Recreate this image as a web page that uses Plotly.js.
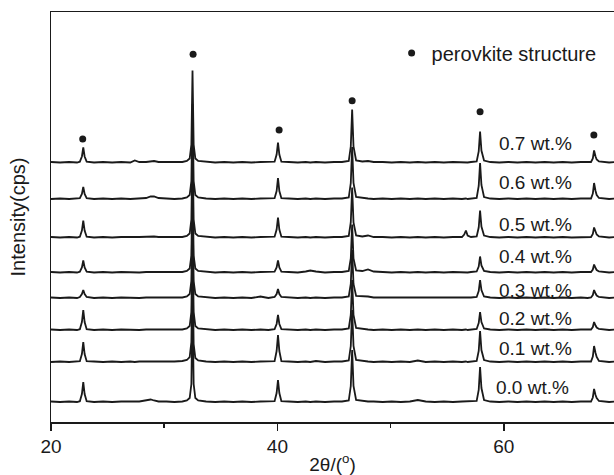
<!DOCTYPE html>
<html>
<head>
<meta charset="utf-8">
<script src="https://cdn.plot.ly/plotly-3.0.1.min.js"></script>
<style>
  html, body { margin: 0; padding: 0; background: #fff; }
  #chart { width: 614px; height: 475px; }
</style>
</head>
<body>
<div id="chart"></div>
<script>
// ---------------- DATA ----------------
// 2θ positions (degrees), shared by every pattern
const TWO_THETA = [
  20.0, 20.8, 21.6, 22.3,
  22.55, 22.73, 22.85, 22.97, 23.15,
  23.8, 24.6, 25.4, 26.2, 27.0, 27.4, 27.8, 28.4, 28.8, 29.1, 29.5, 30.2, 30.9, 31.6,
  32.0, 32.25, 32.4, 32.5, 32.6, 32.75, 33.0,
  33.7, 34.5, 35.3, 36.1, 36.9, 37.7, 38.5, 39.2,
  39.75, 39.93, 40.05, 40.17, 40.35,
  41.0, 41.8, 42.5, 42.9, 43.4, 44.2, 45.0, 45.7,
  46.3, 46.48, 46.6, 46.72, 46.95,
  47.5, 48.0, 48.5, 49.3, 50.1, 50.9, 51.7, 52.4, 53.1, 53.9, 54.7, 55.5, 56.3, 56.5, 56.65, 56.8, 57.1,
  57.6, 57.78, 57.9, 58.02, 58.25,
  58.8, 59.6, 60.4, 61.2, 62.0, 62.8, 63.6, 64.4, 65.2, 66.0, 66.8, 67.4,
  67.7, 67.86, 67.97, 68.1, 68.2, 68.4,
  68.8, 69.3, 70.0
];

// sample names (bottom to top)
const SAMPLES = ['0.0 wt.%', '0.1 wt.%', '0.2 wt.%', '0.3 wt.%', '0.4 wt.%', '0.5 wt.%', '0.6 wt.%', '0.7 wt.%'];

// vertical stacking offset of each pattern (cps, arbitrary)
const OFFSETS = [20, 60, 92, 124, 149.5, 184.5, 223, 259.5];

// intensities of each pattern above its own baseline
const I_00 = [
  0.5, 0, 0.5, 0,
  0.8, 8, 20, 8, 0.8,
  0, 0.5, 0, 0.5, 0, 0.5, 0.5, 1.5, 2.5, 1.5, 0.5, 0.5, 0, 0.5,
  1.5, 4, 18, 100, 18, 4, 1.5,
  0.5, 0, 0.5, 0, 0.5, 0, 0.5, 0.5,
  0.8, 9, 22, 9, 0.8,
  0.5, 0, 0.5, 0, 0.5, 0, 0.5, 0.5,
  1.5, 16, 52, 16, 2,
  1, 0.5, 0.5, 0, 0.5, 0, 0.5, 2, 0.5, 0, 0.5, 0, 0.5, 0.5, 0.5, 0.5, 0.5,
  1, 12, 35, 14, 2,
  0.5, 0, 0.5, 0, 0.5, 0, 0.5, 0, 0.5, 0, 0.5, 0.5,
  0.5, 4.5, 13, 7, 4, 1,
  0.5, 0, 0.5
];
const I_01 = [
  0, 0.5, 0, 0.5,
  0.8, 8, 20, 8, 0.8,
  0.5, 0, 0.5, 0, 0.5, 0, 0.5, 0.5, 0, 0.5, 0, 0.5, 0.5, 1,
  2, 5, 20, 100, 18, 4, 1.5,
  0.5, 0, 0.5, 0, 0.5, 0, 0.5, 0.5,
  0.8, 11, 27, 11, 0.8,
  0.5, 0, 0.5, 0, 1, 0, 0.5, 0.5,
  1.5, 16, 52, 16, 2,
  1, 0.5, 0, 0.5, 0, 0.5, 0, 1.5, 0, 0.5, 0, 0.5, 0, 0.5, 0.5, 0, 0.5,
  1, 11, 31, 12, 2,
  0.5, 0, 0.5, 0, 0.5, 0, 0.5, 0, 0.5, 0, 0.5, 0,
  0.5, 5.5, 16, 9, 5, 1,
  0.5, 0, 0.5
];
const I_02 = [
  0.5, 0, 0.5, 0,
  0.8, 8, 20, 8, 0.8,
  0, 0.5, 0, 0.5, 0, 0.5, 0, 0.5, 0.5, 0.5, 0, 0.5, 0, 0.5,
  1.5, 4, 18, 100, 18, 4, 1.5,
  0.5, 0, 0.5, 0, 0.5, 0, 0.5, 0,
  0.8, 6, 15, 6, 0.8,
  0.5, 0, 0.5, 0, 0.5, 0, 0.5, 0.5,
  1.5, 15, 50, 15, 2,
  1, 0.5, 0, 0.5, 0, 0.5, 0, 0.5, 0, 0.5, 0, 0.5, 0, 0.5, 0.5, 0, 0.5,
  1, 7, 18, 8, 1.5,
  0.5, 0, 0.5, 0, 0.5, 0, 0.5, 0, 0.5, 0, 0.5, 0,
  0.5, 3, 8, 4.5, 2.5, 1,
  0.5, 0, 0.5
];
const I_03 = [
  0.5, 0, 0.5, 0,
  1, 4, 8, 4, 1,
  0, 0.5, 0, 0.5, 0, 0.5, 0, 0.5, 0.5, 0.5, 0, 0.5, 0, 0.5,
  1.5, 4, 17, 95, 17, 4, 1.5,
  0.5, 0, 0.5, 0, 0.5, 0, 1.5, 0,
  1, 4, 9, 4, 1,
  0.5, 0, 0.5, 0, 0.5, 0, 0.5, 0.5,
  1.5, 14, 48, 14, 2,
  2, 1.5, 0.5, 0.5, 0, 0.5, 0, 0.5, 0, 0.5, 0, 0.5, 0, 0.5, 0.5, 0, 0.5,
  1, 7, 18, 8, 1.5,
  0.5, 0, 0.5, 0, 0.5, 0, 0.5, 0, 0.5, 0, 0.5, 0,
  0.5, 3, 8, 4.5, 2.5, 1,
  0.5, 0, 0.5
];
const I_04 = [
  0.5, 0, 0.5, 0,
  0.8, 5, 12, 5, 0.8,
  0, 0.5, 0, 0.5, 0, 0.5, 0, 0.5, 0.5, 0.5, 0, 0.5, 0, 0.5,
  1.5, 4, 17, 95, 17, 4, 1.5,
  0.5, 0, 0.5, 0, 0.5, 0, 0.5, 0.5,
  0.8, 5, 12, 5, 0.8,
  0.5, 0, 1, 2, 1, 0, 0.5, 0.5,
  1.5, 14, 48, 14, 2,
  1.5, 3, 1, 0.5, 0, 0.5, 0, 0.5, 0, 0.5, 0, 0.5, 0, 0.5, 0.5, 0, 0.5,
  1, 6, 16, 7, 1.5,
  0.5, 0, 0.5, 0, 0.5, 0, 0.5, 0, 0.5, 0, 0.5, 0,
  0.5, 3, 8, 4.5, 2.5, 1,
  0.5, 0, 0.5
];
const I_05 = [
  0.5, 0, 0.5, 0,
  0.8, 7, 17, 7, 0.8,
  0, 0.5, 0, 0.5, 0, 0.5, 0.5, 1, 1.5, 1, 0.5, 0.5, 0, 0.5,
  1.5, 4, 18, 95, 18, 4, 1.5,
  0.5, 0, 0.5, 0, 0.5, 0, 0.5, 0.5,
  0.8, 8, 20, 8, 0.8,
  0.5, 0, 0.5, 0, 0.5, 0, 0.5, 0.5,
  1.5, 15, 50, 15, 2,
  1, 2, 0.5, 0.5, 0, 0.5, 0, 0.5, 0, 0.5, 0, 0.5, 0.5, 3, 7, 2, 0.5,
  1, 10, 27, 11, 2,
  0.5, 0, 0.5, 0, 0.5, 0, 0.5, 0, 0.5, 0, 0.5, 0.5,
  0.5, 3.5, 10, 6, 3, 1,
  0.5, 0, 0.5
];
const I_06 = [
  0, 0.5, 0, 0.5,
  0.8, 5, 12, 5, 0.8,
  0, 0.5, 0, 0.5, 0, 0.5, 0.5, 1, 2.5, 2.5, 1, 0.5, 0, 0.5,
  1.5, 4, 18, 95, 18, 4, 1.5,
  0.5, 0, 0.5, 0, 0.5, 0, 0.5, 0.5,
  0.8, 8, 21, 8, 0.8,
  0.5, 0, 0.5, 0, 0.5, 0, 0.5, 0.5,
  1.5, 16, 52, 16, 2,
  1, 0.5, 0, 0.5, 0, 0.5, 0, 0.5, 0, 0.5, 0, 0.5, 0, 0.5, 0.5, 0, 0.5,
  1, 13, 36, 14, 2,
  0.5, 0, 0.5, 0, 0.5, 0, 0.5, 0, 0.5, 0, 0.5, 0,
  0.5, 5.5, 16, 8, 4, 1,
  0.5, 0, 0.5
];
const I_07 = [
  0.5, 0, 0.5, 0,
  0.8, 6, 15, 6, 0.8,
  0, 0.5, 0, 0.5, 0, 2, 0.5, 0.5, 1.5, 1.5, 0.5, 0.5, 0, 0.5,
  1.5, 4, 18, 92, 18, 4, 1.5,
  0.5, 0, 0.5, 0, 0.5, 0, 0.5, 0.5,
  0.8, 8, 20, 8, 0.8,
  0.5, 0, 0.5, 0, 0.5, 0, 0.5, 0.5,
  1.5, 16, 53, 16, 2,
  1, 1.5, 0.5, 0.5, 0, 0.5, 0, 0.5, 0, 0.5, 0, 0.5, 0, 0.5, 0.5, 0, 0.5,
  1, 11, 31, 12, 2,
  0.5, 0, 0.5, 0, 0.5, 0, 0.5, 0, 0.5, 0, 0.5, 0,
  0.5, 4, 12, 6, 3, 1,
  0.5, 0, 0.5
];

// perovskite reflection markers (•)
const MARK_2THETA = [22.8, 32.55, 40.15, 46.6, 57.9, 67.95];
const MARK_Y = [283, 367.7, 292, 321.3, 310.3, 287];
const MARK_NAME = 'perovkite structure';

// axis tick values
const X_TICKS = [20, 40, 60];

// ---------------- BUILD ----------------
const PATTERNS = [I_00, I_01, I_02, I_03, I_04, I_05, I_06, I_07];
const FONT = 'Liberation Sans, Arial, Helvetica, sans-serif';
const INK = '#1a1a1a';

const traces = PATTERNS.map((arr, k) => ({
  type: 'scatter',
  mode: 'lines',
  name: SAMPLES[k],
  x: TWO_THETA,
  y: arr.map(v => v + OFFSETS[k]),
  line: { color: INK, width: 1.8 },
  showlegend: false,
  hoverinfo: 'skip'
}));

traces.push({
  type: 'scatter',
  mode: 'markers',
  name: MARK_NAME,
  x: MARK_2THETA,
  y: MARK_Y,
  marker: { color: INK, size: 7, symbol: 'circle' },
  showlegend: true
});

// label placement (layout only)
const LABEL_X = [62.55, 62.8, 62.8, 62.8, 62.8, 62.8, 62.8, 62.8];
const LABEL_Y = [34.7, 73.7, 103.7, 131.3, 165.3, 198, 239.3, 278.7];

const annotations = SAMPLES.map((s, k) => ({
  x: LABEL_X[k], y: LABEL_Y[k], xref: 'x', yref: 'y',
  text: s, showarrow: false, xanchor: 'center', yanchor: 'middle',
  font: { family: FONT, size: 19, color: INK }
}));

const layout = {
  width: 614,
  height: 475,
  margin: { l: 51, r: 0, t: 12, b: 53, pad: 0 },
  paper_bgcolor: '#ffffff',
  plot_bgcolor: '#ffffff',
  font: { family: FONT, color: INK },
  showlegend: true,
  legend: {
    x: 0.605, y: 0.9, xanchor: 'left', yanchor: 'middle',
    bgcolor: 'rgba(0,0,0,0)', borderwidth: 0,
    font: { family: FONT, size: 20, color: INK }
  },
  xaxis: {
    range: [20, 69.73],
    tickvals: X_TICKS,
    ticktext: X_TICKS.map(String),
    ticks: 'outside', ticklen: 7, tickwidth: 1.5, tickcolor: INK,
    minor: { dtick: 10, tick0: 20, ticks: 'outside', ticklen: 4, tickwidth: 1.5, tickcolor: INK, showgrid: false },
    showline: true, linecolor: INK, linewidth: 1.5, mirror: true,
    showgrid: false, zeroline: false,
    tickfont: { family: FONT, size: 19, color: INK },
    title: { text: '2θ/(<sup>o</sup>)', font: { family: FONT, size: 19, color: INK }, standoff: 9 },
    automargin: false,
    fixedrange: true
  },
  yaxis: {
    range: [0, 410],
    showticklabels: false,
    ticks: '',
    showline: true, linecolor: INK, linewidth: 1.5, mirror: false,
    showgrid: false, zeroline: false,
    title: { text: 'Intensity(cps)', font: { family: FONT, size: 20, color: INK }, standoff: 18 },
    automargin: false,
    fixedrange: true
  },
  annotations: annotations
};

Plotly.newPlot('chart', traces, layout, { displayModeBar: false, staticPlot: true });
</script>
</body>
</html>
